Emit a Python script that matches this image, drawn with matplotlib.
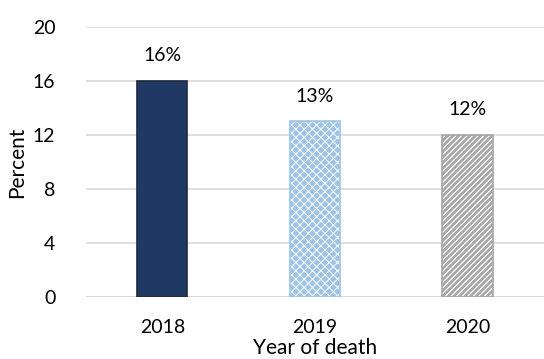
import matplotlib
matplotlib.use("Agg")
import matplotlib.pyplot as plt

years = ["2018", "2019", "2020"]
percent = [16, 13, 12]
labels = ["16%", "13%", "12%"]
y_ticks = [0, 4, 8, 12, 16, 20]

plt.rcParams['font.family'] = ['Lato', 'DejaVu Sans']

fig = plt.figure(figsize=(5.44, 3.59), dpi=100)
ax = fig.add_axes([0.158, 0.1727, 0.842, 0.7521])

x = list(range(len(years)))
w = 0.33

# fills (hatch drawn in edge colour, outline added separately)
styles = [
    dict(face="#203864", hatch=None, hcol="#203864", edge="#1F2A3C", hlw=1.0),
    dict(face="#9DC3E6", hatch="xxxx", hcol="white", edge="#9DC3E6", hlw=0.7),
    dict(face="white", hatch="//////", hcol="#A6A6A6", edge="#A6A6A6", hlw=1.9),
]
for xi, v, s in zip(x, percent, styles):
    with plt.rc_context({"hatch.linewidth": s["hlw"]}):
        ax.bar(xi, v, width=w, color=s["face"], hatch=s["hatch"],
               edgecolor=s["hcol"], linewidth=0, zorder=2)
    ax.bar(xi, v, width=w, fill=False, edgecolor=s["edge"],
           linewidth=1.2, zorder=3)

for xi, v, t in zip(x, percent, labels):
    ax.annotate(t, (xi, v), xytext=(0, 12), textcoords="offset points",
                ha="center", va="bottom", fontsize=14, color="black")

ax.set_xlim(-0.5, 2.5)
ax.set_ylim(0, 20)
ax.set_yticks(y_ticks)
ax.set_xticks(x)
ax.set_xticklabels(years)
ax.tick_params(axis="both", length=0, labelsize=14, colors="black")
ax.tick_params(axis="y", pad=22)
ax.tick_params(axis="x", pad=16)
ax.grid(axis="y", color="#D9D9D9", linewidth=1.2, zorder=0)
for sp in ax.spines.values():
    sp.set_visible(False)
ax.axhline(0, color="#D9D9D9", linewidth=1.2, zorder=1)

ax.set_ylabel("Percent", fontsize=15, labelpad=4)
ax.set_xlabel("Year of death", fontsize=15, labelpad=1)

fig.savefig("out.png", dpi=100, facecolor="white")
